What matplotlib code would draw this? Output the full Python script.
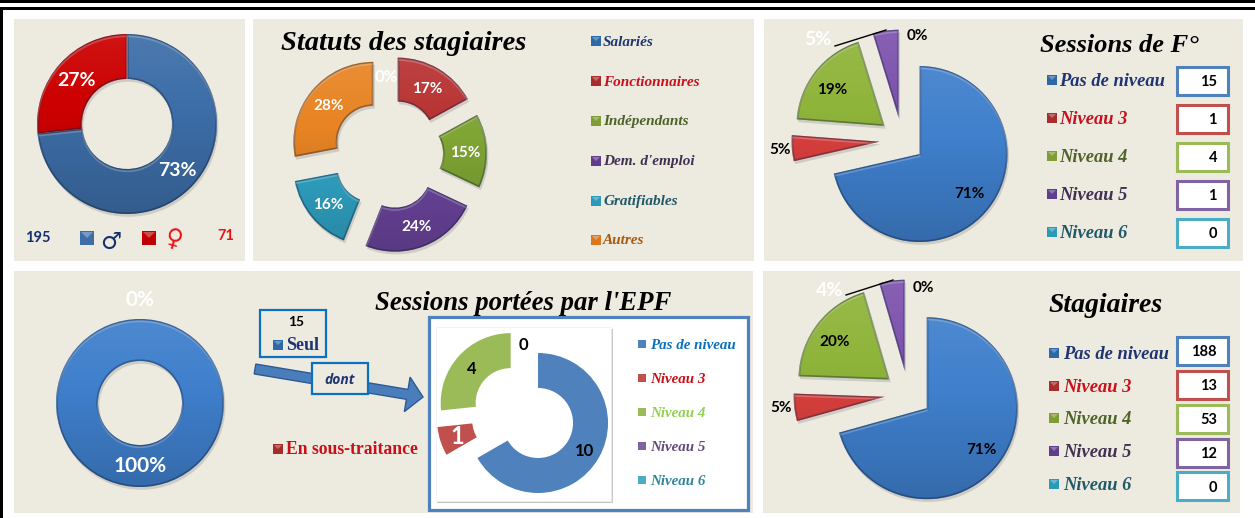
import numpy as np
import matplotlib
matplotlib.use("Agg")
import matplotlib.pyplot as plt
import matplotlib.patches as mpatches
import matplotlib.patheffects as pe

W, H = 1255, 518

# --- data ---
genre_values = [195, 71]
genre_labels = ["73%", "27%"]

statut_names = ["Salariés", "Fonctionnaires", "Indépendants", "Dem. d'emploi", "Gratifiables", "Autres"]
statut_values = [0, 17, 15, 24, 16, 28]
statut_labels = ["0%", "17%", "15%", "24%", "16%", "28%"]

niveau_names = ["Pas de niveau", "Niveau 3", "Niveau 4", "Niveau 5", "Niveau 6"]
sessions_values = [15, 1, 4, 1, 0]
sessions_labels = ["71%", "5%", "19%", "5%", "0%"]
stagiaires_values = [188, 13, 53, 12, 0]
stagiaires_labels = ["71%", "5%", "20%", "4%", "0%"]

epf_values = [15, 0]
epf_labels = ["100%", "0%"]
seul_values = [10, 1, 4, 0, 0]

# --- colours ---
BG = "#edeae0"
SERIF = "Liberation Serif"
SANS = "Lato"
NAVY = "#1f3572"
pie_cols = ["#3f7fcc", "#d9403e", "#8fb43a", "#7d53ad", "#3aa8c8"]
flat_cols = ["#4f81bd", "#c0504d", "#9bbb59", "#8064a2", "#4bacc6"]
border_cols = ["#4f81bd", "#c0504d", "#9bbb59", "#8064a2", "#4bacc6"]
marker_cols = ["#2e68a8", "#a82c2c", "#7f9c35", "#5f3d8a", "#2a9ab8", "#d9771f"]
text_cols = ["#1f3572", "#c8101a", "#4f6228", "#403152", "#215968", "#a85a10"]
inner_text_cols = ["#0a70c0", "#c8101a", "#92d050", "#604a7b", "#31859c"]

fig = plt.figure(figsize=(W / 100, H / 100), dpi=100, facecolor="white")
ax = fig.add_axes([0, 0, 1, 1])
ax.axis("off")

def Y(y):
    return H - y

def box(x0, y0, x1, y1, **kw):
    ax.add_patch(mpatches.Rectangle((x0, Y(y1)), x1 - x0, y1 - y0, **kw))

def txt(x, y, s, size=10, color="black", ha="center", family=SANS, weight="bold", style="normal", zorder=6, rot=0):
    ax.text(x, Y(y + 1.5), s, fontsize=size, color=color, ha=ha, va="center", family=family,
            weight=weight, style=style, zorder=zorder, rotation=rot)

# soft vertical shading laid over each slice
ramp = np.linspace(0, 1, 64)
grad = np.zeros((64, 1, 4))
grad[:, 0, :3] = np.where(ramp[:, None] < 0.4, 1.0, 0.0)
grad[:, 0, 3] = np.where(ramp < 0.4, (0.4 - ramp) * 0.2, (ramp - 0.4) * 0.27)

def pie3d(values, cols, cx, cy, R, width=None, explode=0, bevel=True):
    wp = {"linewidth": 0}
    if width:
        wp["width"] = width
    wedges, _ = ax.pie(values, colors=cols, center=(cx, Y(cy)), radius=R, startangle=90, counterclock=False,
                       explode=[explode] * len(values), frame=True, wedgeprops=wp)
    for w, v in zip(wedges, values):
        if v == 0:
            w.set_visible(False)
            continue
        if not bevel:
            continue
        w.set_path_effects([pe.withSimplePatchShadow(offset=(1, -2), alpha=0.2, shadow_rgbFace="#555555")])
        x, y = w.center
        im = ax.imshow(grad, extent=(x - R, x + R, y - R, y + R), aspect="auto", zorder=1.5, interpolation="bilinear")
        im.set_clip_path(w)
        rim = mpatches.Wedge((x, y), R, w.theta1, w.theta2, width=width, fc="none", ec="#10203a",
                             lw=2.4, alpha=0.38, zorder=1.6)
        ax.add_patch(rim)
        rim.set_clip_path(w)
        light = mpatches.Wedge((x, y - 2.2), R, w.theta1, w.theta2, width=width, fc="none", ec="white",
                               lw=1.4, alpha=0.22, zorder=1.7)
        ax.add_patch(light)
        light.set_clip_path(w)
    return wedges

def ring_label(wedge, s, **kw):
    # label in the middle of the ring, like the default chart position
    t = np.deg2rad((wedge.theta1 + wedge.theta2) / 2)
    r = wedge.r - wedge.width / 2
    x, y = wedge.center
    txt(x + r * np.cos(t), H - (y + r * np.sin(t)), s, **kw)

def marker(x, y, col, size=10, bevel=True):
    box(x - size / 2, y - size / 2, x + size / 2, y + size / 2, fc=col, ec="none", zorder=4)
    if bevel:
        ax.add_patch(mpatches.Polygon([(x - size / 2 + 1, Y(y - size / 2 + 1)), (x + size / 2 - 1, Y(y - size / 2 + 1)),
                                       (x, Y(y))], fc="white", alpha=0.3, ec="none", zorder=5))

# frame lines
box(0, 0, W, 2.5, fc="black", ec="none")
box(0, 7, W, 10, fc="black", ec="none")
box(0, 7, 2.5, H, fc="black", ec="none")

# panels
for x0, y0, x1, y1 in [(14, 19, 245, 261), (253, 19, 754, 261), (764, 19, 1243, 261),
                       (14, 271, 753, 513), (763, 271, 1240, 513)]:
    box(x0, y0, x1, y1, fc=BG, ec="none", zorder=0)

# top left ring
w = pie3d(genre_values, ["#3d6ea8", "#cc0000"], 127, 124, 90, width=45)
for wi, s in zip(w, genre_labels):
    ring_label(wi, s, size=14, color="white")
txt(38, 237, str(genre_values[0]), size=10.5, color="#14306e")
marker(87, 238, "#3d6ea8", size=14)
txt(111, 240, "♂", size=17, color="#14306e", family="DejaVu Sans", weight="normal")
marker(149, 238, "#c00000", size=14)
txt(174, 238, "♀", size=17, color="#ee1111", family="DejaVu Sans", weight="normal", rot=-15)
txt(226, 235, str(genre_values[1]), size=10.5, color="#ee1111")

# statuts
txt(404, 41.5, "Statuts des stagiaires", size=20.5, family=SERIF, style="italic")
w = pie3d(statut_values, [pie_cols[0], "#b83232", "#7fa534", "#6b449c", "#30a3c4", "#e88423"],
          388, 154, 80, width=44, explode=19)
for wi, s, v in zip(w, statut_labels, statut_values):
    if v > 0:
        ring_label(wi, s, size=11, color="white")
txt(386, 76, statut_labels[0], size=12, color="white")
statut_y = [41, 81, 121, 161, 201, 240]
for i, name in enumerate(statut_names):
    marker(596, statut_y[i], marker_cols[i], size=10)
    txt(603, statut_y[i] - 0.5, name, size=11, color=text_cols[i], ha="left", family=SERIF, style="italic")

# sessions de F
w = pie3d(sessions_values, pie_cols, 902, 140, 88, explode=22.5)
ax.plot([835, 886], [Y(46), Y(30)], color="black", lw=1, zorder=3)
for (x, y), s, c, fs in zip([(969, 193), (780, 148), (832, 88), (818, 38), (917, 35)], sessions_labels,
                            ["black", "black", "black", "white", "black"], [11, 11, 11, 14, 11]):
    txt(x, y, s, size=fs, color=c)
txt(1119, 43.5, "Sessions de F°", size=19, family=SERIF, style="italic")

def niveau_legend(values, ty, by, mx, tx):
    for i, name in enumerate(niveau_names):
        marker(mx, ty[i], marker_cols[i], size=10)
        txt(tx, ty[i], name, size=13.3, color=text_cols[i], ha="left", family=SERIF, style="italic")
        box(1177, by[i], 1228, by[i] + 28, fc="white", ec=border_cols[i], lw=2.2, zorder=3)
        txt(1217, by[i] + 14, str(values[i]), size=10.5, ha="right")

niveau_legend(sessions_values, [80, 118, 156, 194, 232], [67, 105, 143, 181, 219], 1052, 1059)

# lower left ring + epf
w = pie3d(epf_values, [pie_cols[0], "#c0504d"], 140, 403, 84, width=42)
txt(140, 465, epf_labels[0], size=15, color="white")
txt(140, 299, epf_labels[1], size=15, color="white")
txt(523, 301.5, "Sessions portées par l'EPF", size=19.3, family=SERIF, style="italic")

box(260, 310, 326, 357, fc=BG, ec="#0a70c0", lw=1.6, zorder=3)
txt(296, 321, str(epf_values[0]), size=10)
marker(278, 345, "#2e68a8", size=10)
txt(286, 344, "Seul", size=13, color=NAVY, ha="left", family=SERIF)

ax.add_patch(mpatches.FancyArrow(255, Y(369), 168, Y(397) - Y(369), width=10, head_width=35, head_length=16,
                                 length_includes_head=True, fc="#4a7ebb", ec="#2c5a94", lw=1, zorder=2))
box(312, 363, 368, 394, fc=BG, ec="#0a70c0", lw=1.6, zorder=3)
txt(340, 378, "dont", size=10, color=NAVY, family="Open Sans", style="italic")

marker(278, 449, "#a82c2c", size=10)
txt(286, 448, "En sous-traitance", size=12.7, color="#c8101a", ha="left", family=SERIF)

box(429, 317, 748, 510, fc="white", ec="#4f81bd", lw=2.3, zorder=1)
box(437, 329, 613, 503, fc="#999999", ec="none", alpha=0.55, zorder=1.1)
box(436, 327, 611, 501, fc="white", ec="#eeeeee", lw=0.5, zorder=1.2)
wedges = pie3d(seul_values, flat_cols, 523.3, 414.5, 70, width=35, explode=17, bevel=False)
for wi in wedges:
    wi.set_zorder(2)
for (x, y), s, c, fs in zip([(584, 449), (457, 435), (472, 367), (523, 343)], seul_values[:4],
                            ["black", "white", "black", "black"], [12, 17, 12, 12]):
    txt(x, y, str(s), size=fs, color=c)
inner_y = [344, 378, 412, 446, 480]
for i, name in enumerate(niveau_names):
    marker(642, inner_y[i], flat_cols[i], size=8, bevel=False)
    txt(650, inner_y[i], name, size=10.8, color=inner_text_cols[i], ha="left", family=SERIF, style="italic")

# stagiaires
w = pie3d(stagiaires_values, pie_cols, 908, 394, 91, explode=23.5)
ax.plot([846, 893], [Y(295), Y(280)], color="black", lw=1, zorder=3)
for (x, y), s, c, fs in zip([(981, 448), (781, 407), (835, 341), (830, 289), (923, 287)], stagiaires_labels,
                            ["black", "black", "black", "white", "black"], [11, 11, 11, 14, 11]):
    txt(x, y, s, size=fs, color=c)
txt(1106, 303.5, "Stagiaires", size=20, family=SERIF, style="italic")
niveau_legend(stagiaires_values, [353, 386, 418, 451, 484], [337, 371, 405, 439, 472], 1054, 1063)

ax.set_aspect("auto")
ax.set_xlim(0, W)
ax.set_ylim(0, H)
fig.savefig("out.png", dpi=100, facecolor="white")
